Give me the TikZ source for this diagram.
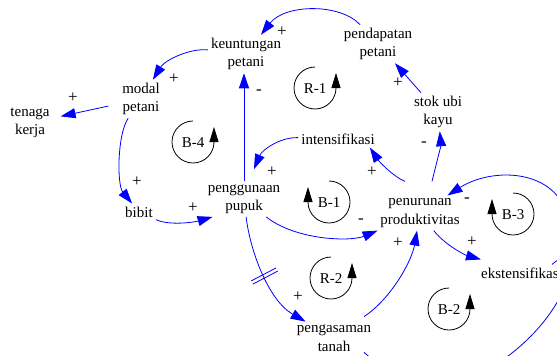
\documentclass[tikz,border=0pt]{standalone}
\usepackage{fontspec}
\setmainfont{Liberation Serif}
\usetikzlibrary{arrows.meta,calc,decorations.markings}

\begin{document}
\begin{tikzpicture}[x=1pt,y=-1pt,>={Triangle[length=15pt,width=10pt]},
  var/.style={font=\fontsize{15}{18.5}\selectfont, align=center, inner sep=3pt},
  sign/.style={font=\fontsize{17}{18}\selectfont, inner sep=0pt},
  link/.style={->, draw=blue, line width=0.8pt},
  loopline/.style={-{Triangle[length=15pt,width=9pt]}, line width=0.8pt, black},
  looplabel/.style={font=\fontsize{15}{18}\selectfont, inner sep=0pt},
  delaymark/.style={postaction={decorate}, decoration={markings,
    mark=at position 0.5 with {\draw[-, blue, line width=0.8pt]
      (-1.8pt,-14pt) -- (-1.8pt,14pt) (1.8pt,-14pt) -- (1.8pt,14pt);}}}]

\useasboundingbox (0,0) rectangle (557,356);
\clip (0,0) rectangle (557,356);

% variables
\node[var] (keun)   at (246,54)  {keuntungan\\petani};
\node[var] (pend)   at (378,44)  {pendapatan\\petani};
\node[var] (modal)  at (141,99)  {modal\\petani};
\node[var] (tenaga) at (30,123)  {tenaga\\kerja};
\node[var] (stok)   at (438,112) {stok ubi\\kayu};
\node[var] (intens) at (338,139) {intensifikasi};
\node[var] (peng)   at (244,199) {penggunaan\\pupuk};
\node[var] (bibit)  at (139,212) {bibit};
\node[var] (penur)  at (420,213) {penurunan\\produktivitas};
\node[var] (eks)    at (522,273) {ekstensifikasi};
\node[var] (pengas) at (334,338) {pengasaman\\tanah};
\coordinate (lahan) at (470,380);

% causal links
\draw[link] (pend) .. controls (340,3) and (285,4) .. (keun);
\draw[link] (keun) .. controls (190,48) and (165,60) .. (modal);
\draw[link, shorten <=11pt, shorten >=8pt] (modal) -- (tenaga);
\draw[link] (modal) .. controls (117,135) and (117,185) .. (bibit);
\draw[link] (bibit) .. controls (170,226) and (195,222) .. ([xshift=8pt]peng.south west);
\draw[link] (peng.north) -- (peng.north |- keun.south);
\draw[link] (intens) .. controls (280,137) and (262,150) .. ([xshift=10pt,yshift=12pt]peng.north);
\draw[link] (peng) .. controls (295,240) and (350,242) .. (penur);
\draw[link] ([xshift=-15pt,yshift=14pt]penur.north) .. controls (392,176) and (378,160) .. (intens.-15);
\draw[link] ([xshift=12pt,yshift=14pt]penur.north) .. controls (436,165) and (441,145) .. (stok);
\draw[link] (stok) -- (pend);
\draw[link, delaymark] (peng) .. controls (250,250) and (268,300) .. (pengas);
\draw[link] ([xshift=30pt,yshift=5pt]pengas.north) .. controls (392,298) and (412,260) .. (penur);
\draw[link] (penur) .. controls (445,245) and (465,255) .. ([xshift=3pt,yshift=5pt]eks.north west);
\draw[link] (eks.north east) .. controls (590,170) and (500,162) .. (penur);
\draw[link] ($(eks.north)+(30,0)$) .. controls (585,235) and (575,320) .. (lahan);
\draw[link] ([xshift=30pt,yshift=2pt]pengas.south) .. controls (385,372) and (430,385) .. (lahan);

% polarities
\node[sign] (s1)  at (282,32)  {+};
\node[sign] (s2)  at (174,79)  {+};
\node[sign] (s3)  at (73,98)   {+};
\node[sign] (s4)  at (137,182) {+};
\node[sign] (s5)  at (193,208) {+};
\node[sign] (s6)  at (259,92)  {-};
\node[sign] (s7)  at (272,172) {+};
\node[sign] (s8)  at (361,221) {-};
\node[sign] (s9)  at (372,172) {+};
\node[sign] (s10) at (424,144) {-};
\node[sign] (s11) at (398,83)  {+};
\node[sign] (s12) at (298,297) {+};
\node[sign] (s13) at (398,243) {+};
\node[sign] (s14) at (472,242) {+};
\node[sign] (s15) at (467,200) {-};

% loop markers
\draw[loopline] (193,121) arc[start angle=-90, end angle=-360, radius=21] -- ++(0,-15);
\node[looplabel] (b4) at (193,143) {B-4};
\draw[loopline] (315,67) arc[start angle=-90, end angle=-360, radius=21] -- ++(0,-15);
\node[looplabel] (r1) at (315,89) {R-1};
\draw[loopline] (329,181) arc[start angle=-90, end angle=180, radius=21] -- ++(0,-15);
\node[looplabel] (b1) at (329,203) {B-1};
\draw[loopline] (331,257) arc[start angle=-90, end angle=-360, radius=21] -- ++(0,-15);
\node[looplabel] (r2) at (331,279) {R-2};
\draw[loopline] (513,193) arc[start angle=-90, end angle=180, radius=21] -- ++(0,-15);
\node[looplabel] (b3) at (513,215) {B-3};
\draw[loopline] (449,288) arc[start angle=-90, end angle=-360, radius=21] -- ++(0,-15);
\node[looplabel] (b2) at (449,310) {B-2};
\end{tikzpicture}
\end{document}
